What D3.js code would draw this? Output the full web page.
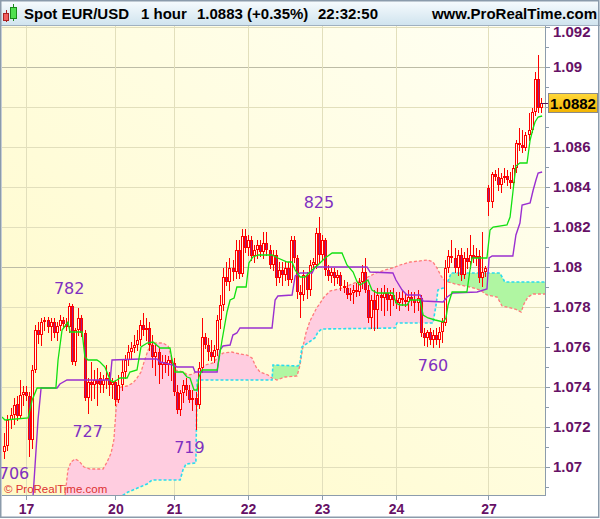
<!DOCTYPE html>
<html><head><meta charset="utf-8">
<script src="https://cdn.jsdelivr.net/npm/d3@7/dist/d3.min.js"></script>
<style>body{margin:0;background:#fff;}svg{display:block;}</style>
</head><body>
<svg id="c" width="600" height="519"></svg>
<script>
// ---------- DATA ----------
const opens=[1.07075,1.07105,1.07235,1.07260,1.07315,1.07255,1.07360,1.07375,1.07355,1.07135,
1.07485,1.07685,1.07660,1.07725,1.07735,1.07700,1.07725,1.07670,1.07705,1.07735,
1.07715,1.07700,1.07805,1.07525,1.07685,1.07745,1.07670,1.07345,1.07425,1.07410,
1.07435,1.07445,1.07410,1.07435,1.07445,1.07410,1.07425,1.07335,1.07410,1.07475,
1.07535,1.07575,1.07595,1.07610,1.07635,1.07710,1.07685,1.07695,1.07610,1.07550,
1.07575,1.07510,1.07525,1.07510,1.07535,1.07520,1.07375,1.07285,1.07370,1.07410,
1.07385,1.07335,1.07345,1.07310,1.07495,1.07650,1.07610,1.07575,1.07550,1.07585,
1.07735,1.07810,1.07950,1.07925,1.07995,1.07975,1.08085,1.07965,1.08155,1.08095,
1.08135,1.08055,1.08085,1.08110,1.08075,1.08120,1.08085,1.08010,1.08060,1.07945,
1.07985,1.07960,1.07995,1.07935,1.08135,1.08045,1.07875,1.07860,1.07960,1.07885,
1.08010,1.08010,1.08170,1.08060,1.08135,1.07985,1.07955,1.07975,1.07945,1.07960,
1.07905,1.07895,1.07860,1.07870,1.07885,1.07875,1.07925,1.07975,1.07885,1.07745,
1.07835,1.07785,1.07860,1.07845,1.07870,1.07835,1.07860,1.07835,1.07820,1.07845,
1.07835,1.07825,1.07850,1.07835,1.07820,1.07845,1.07670,1.07645,1.07675,1.07635,
1.07660,1.07635,1.07675,1.07720,1.07995,1.08055,1.08045,1.07995,1.08060,1.07960,
1.08045,1.08025,1.08060,1.08045,1.08055,1.07945,1.07975,1.08395,1.08325,1.08465,
1.08450,1.08410,1.08445,1.08455,1.08435,1.08420,1.08495,1.08620,1.08610,1.08595,
1.08660,1.08685,1.08775,1.08940,1.08795];
const highs=[1.07170,1.07260,1.07295,1.07345,1.07355,1.07435,1.07405,1.07405,1.07375,1.07510,
1.07710,1.07725,1.07745,1.07750,1.07750,1.07745,1.07745,1.07725,1.07760,1.07750,
1.07745,1.07820,1.07815,1.07695,1.07795,1.07760,1.07685,1.07445,1.07525,1.07485,
1.07495,1.07475,1.07460,1.07510,1.07475,1.07445,1.07435,1.07460,1.07535,1.07560,
1.07610,1.07625,1.07660,1.07685,1.07735,1.07770,1.07745,1.07725,1.07660,1.07610,
1.07595,1.07560,1.07560,1.07555,1.07560,1.07545,1.07410,1.07385,1.07435,1.07445,
1.07410,1.07385,1.07375,1.07525,1.07745,1.07670,1.07645,1.07635,1.07610,1.07760,
1.07860,1.07995,1.08025,1.08045,1.08035,1.08135,1.08135,1.08190,1.08190,1.08160,
1.08155,1.08110,1.08135,1.08135,1.08175,1.08175,1.08110,1.08085,1.08085,1.08025,
1.08025,1.08025,1.08025,1.08155,1.08155,1.08060,1.07910,1.07985,1.07975,1.08035,
1.08045,1.08195,1.08250,1.08160,1.08145,1.08010,1.07995,1.07995,1.07985,1.07975,
1.07935,1.07925,1.07895,1.07910,1.07920,1.07945,1.08010,1.08045,1.07910,1.07860,
1.07885,1.07895,1.07895,1.07910,1.07895,1.07885,1.07895,1.07875,1.07875,1.07885,
1.07870,1.07885,1.07875,1.07875,1.07885,1.07860,1.07695,1.07685,1.07695,1.07685,
1.07695,1.07700,1.07745,1.08035,1.08085,1.08135,1.08095,1.08085,1.08095,1.08075,
1.08095,1.08160,1.08110,1.08095,1.08085,1.08175,1.08005,1.08410,1.08475,1.08485,
1.08495,1.08470,1.08495,1.08485,1.08475,1.08510,1.08635,1.08695,1.08685,1.08675,
1.08770,1.08795,1.08975,1.09060,1.08845];
const lows=[1.07045,1.07085,1.07195,1.07215,1.07235,1.07245,1.07310,1.07335,1.07055,1.07095,
1.07475,1.07620,1.07610,1.07685,1.07675,1.07635,1.07650,1.07635,1.07685,1.07695,
1.07685,1.07675,1.07515,1.07510,1.07660,1.07655,1.07335,1.07270,1.07335,1.07345,
1.07310,1.07375,1.07375,1.07395,1.07360,1.07345,1.07310,1.07325,1.07385,1.07445,
1.07510,1.07545,1.07575,1.07585,1.07610,1.07660,1.07635,1.07585,1.07500,1.07460,
1.07420,1.07445,1.07475,1.07460,1.07435,1.07360,1.07270,1.07260,1.07325,1.07360,
1.07325,1.07285,1.07190,1.07295,1.07475,1.07595,1.07535,1.07535,1.07525,1.07560,
1.07695,1.07785,1.07910,1.07885,1.07935,1.07945,1.07945,1.07955,1.08075,1.08060,
1.08035,1.08025,1.08045,1.08055,1.08045,1.08060,1.07995,1.07985,1.07910,1.07925,
1.07910,1.07935,1.07910,1.07925,1.08025,1.07845,1.07750,1.07835,1.07845,1.07860,
1.07985,1.07995,1.08025,1.08035,1.07960,1.07935,1.07925,1.07910,1.07920,1.07885,
1.07875,1.07845,1.07835,1.07820,1.07855,1.07860,1.07895,1.07875,1.07725,1.07695,
1.07685,1.07695,1.07785,1.07760,1.07785,1.07760,1.07810,1.07795,1.07785,1.07810,
1.07805,1.07785,1.07810,1.07775,1.07785,1.07655,1.07610,1.07605,1.07615,1.07600,
1.07615,1.07600,1.07625,1.07710,1.07975,1.08025,1.07975,1.07960,1.07935,1.07945,
1.07995,1.07995,1.08025,1.08010,1.07925,1.07905,1.07955,1.08260,1.08300,1.08435,
1.08385,1.08375,1.08425,1.08410,1.08395,1.08405,1.08475,1.08585,1.08575,1.08585,
1.08635,1.08675,1.08760,1.08775,1.08775];
const closes=[1.07105,1.07235,1.07260,1.07310,1.07255,1.07360,1.07375,1.07355,1.07135,1.07485,
1.07685,1.07660,1.07725,1.07735,1.07700,1.07725,1.07670,1.07705,1.07735,1.07715,
1.07700,1.07805,1.07525,1.07685,1.07745,1.07670,1.07345,1.07425,1.07410,1.07435,
1.07415,1.07410,1.07435,1.07445,1.07410,1.07425,1.07335,1.07410,1.07475,1.07535,
1.07575,1.07595,1.07610,1.07635,1.07710,1.07685,1.07695,1.07610,1.07550,1.07575,
1.07510,1.07525,1.07510,1.07535,1.07520,1.07375,1.07285,1.07370,1.07410,1.07385,
1.07335,1.07345,1.07310,1.07495,1.07650,1.07610,1.07575,1.07550,1.07585,1.07735,
1.07810,1.07950,1.07925,1.07995,1.07975,1.08085,1.07965,1.08155,1.08095,1.08135,
1.08055,1.08085,1.08110,1.08075,1.08120,1.08085,1.08010,1.08060,1.07945,1.07985,
1.07960,1.07995,1.07935,1.08135,1.08045,1.07875,1.07860,1.07960,1.07885,1.08010,
1.08025,1.08170,1.08060,1.08135,1.07985,1.07955,1.07975,1.07945,1.07960,1.07905,
1.07895,1.07860,1.07870,1.07885,1.07875,1.07925,1.07975,1.07885,1.07745,1.07835,
1.07785,1.07860,1.07845,1.07870,1.07835,1.07860,1.07835,1.07820,1.07845,1.07835,
1.07825,1.07850,1.07835,1.07820,1.07845,1.07670,1.07645,1.07675,1.07635,1.07660,
1.07635,1.07675,1.07725,1.07995,1.08055,1.08045,1.07995,1.08060,1.07960,1.08045,
1.08025,1.08060,1.08045,1.08055,1.07945,1.07975,1.07995,1.08325,1.08465,1.08450,
1.08410,1.08445,1.08455,1.08435,1.08420,1.08495,1.08620,1.08610,1.08595,1.08660,
1.08685,1.08775,1.08940,1.08795,1.08820];

// Ichimoku lines as [bar index, price] vertices
const tenkan=[[-0.8,1.0725],[0.2,1.07235],[7.7,1.07245],[9.0,1.07335],[10.6,1.07395],[16.7,1.07395],[17.4,1.07535],[18.7,1.07685],[19.7,1.07705],[20.6,1.07725],[21.3,1.07675],[25.2,1.07675],[26.1,1.0755],[27.1,1.07535],[30.0,1.07535],[31.0,1.07525],[32.6,1.075],[34.3,1.07435],[35.2,1.07425],[36.5,1.07435],[37.5,1.07445],[39.8,1.07445],[40.7,1.07475],[43.0,1.07485],[44.3,1.076],[46.3,1.0762],[48.2,1.07625],[50.5,1.07595],[53.7,1.07595],[54.4,1.07535],[55.3,1.07475],[57.9,1.07475],[59.2,1.0745],[60.2,1.07445],[61.5,1.07385],[62.5,1.07385],[63.1,1.0745],[64.1,1.07485],[69.0,1.07485],[70.6,1.07635],[72.2,1.07775],[73.2,1.07835],[74.5,1.07845],[75.4,1.079],[78.4,1.079],[79.3,1.0802],[80.6,1.0805],[82.3,1.0806],[86.8,1.0806],[88.7,1.08045],[91.7,1.08025],[93.3,1.08025],[94.3,1.07985],[95.9,1.0795],[97.5,1.0795],[99.8,1.07985],[101.7,1.0801],[104.0,1.08045],[106.3,1.0807],[109.5,1.0807],[111.1,1.0801],[113.1,1.07975],[114.4,1.07925],[115.3,1.0791],[117.0,1.07925],[117.9,1.07935],[119.2,1.07885],[120.9,1.0787],[126.0,1.0787],[127.0,1.0782],[128.3,1.0781],[130.6,1.0781],[131.6,1.07835],[134.8,1.07835],[135.8,1.0776],[137.4,1.07745],[139.7,1.07735],[142.3,1.07725],[143.2,1.07745],[143.9,1.0781],[145.2,1.07875],[150.0,1.07875],[151.0,1.07985],[151.7,1.08045],[156.5,1.08045],[157.5,1.08185],[158.5,1.082],[163.0,1.0821],[164.0,1.0825],[165.0,1.08385],[165.9,1.08505],[167.2,1.0852],[169.5,1.0852],[170.5,1.08635],[171.5,1.08695],[172.1,1.08725],[173.1,1.0875],[174.4,1.08755]];
const kijun=[[9.0,1.06785],[10.9,1.07235],[11.9,1.07395],[17.1,1.07395],[18.0,1.07415],[20.3,1.07435],[34.3,1.07435],[34.9,1.07535],[44.0,1.0754],[49.5,1.0754],[50.5,1.07525],[54.7,1.0751],[56.0,1.075],[61.2,1.075],[61.8,1.07475],[69.0,1.07475],[69.9,1.07585],[70.9,1.07605],[73.2,1.0761],[74.1,1.0766],[75.4,1.0767],[76.4,1.07695],[86.8,1.07695],[87.8,1.07835],[88.7,1.07855],[93.3,1.0786],[94.3,1.07955],[95.9,1.0797],[99.8,1.0797],[100.7,1.08],[117.6,1.08],[118.6,1.07975],[126.0,1.0797],[127.0,1.07935],[129.0,1.07885],[130.6,1.0786],[134.8,1.0786],[135.8,1.0783],[142.3,1.07825],[143.6,1.0785],[145.5,1.0787],[153.3,1.07875],[156.5,1.0789],[157.2,1.08045],[158.2,1.08055],[164.9,1.08055],[165.9,1.0816],[167.2,1.0822],[167.9,1.0831],[170.5,1.0832],[171.5,1.08385],[172.4,1.08435],[173.1,1.0847],[174.4,1.08475]];
const senkouA=[[18.0,1.06685],[19.7,1.0686],[20.6,1.06985],[21.6,1.07025],[22.9,1.0704],[24.2,1.0703],[25.8,1.07],[27.8,1.0699],[32.0,1.0699],[33.3,1.07025],[34.6,1.0707],[35.5,1.07135],[36.2,1.07285],[36.8,1.07375],[37.8,1.074],[39.8,1.07405],[41.7,1.0742],[43.0,1.07445],[44.3,1.07475],[45.3,1.07525],[46.6,1.07585],[48.2,1.0762],[51.4,1.0762],[53.1,1.07605],[54.4,1.07535],[55.3,1.07485],[57.9,1.07475],[59.6,1.0746],[61.2,1.07465],[62.8,1.07485],[65.1,1.0751],[67.7,1.0752],[69.3,1.0755],[70.9,1.0757],[73.8,1.07575],[76.4,1.07565],[78.7,1.0756],[80.3,1.07545],[81.6,1.075],[82.9,1.07475],[85.5,1.0746],[86.8,1.07445],[88.4,1.07435],[91.0,1.0745],[94.9,1.07455],[95.9,1.0751],[96.8,1.076],[97.8,1.0767],[99.1,1.0773],[101.1,1.0779],[103.7,1.0785],[105.6,1.0788],[109.8,1.07895],[112.7,1.07915],[116.0,1.07935],[117.9,1.0795],[120.5,1.0797],[123.5,1.07985],[126.0,1.07995],[128.3,1.0801],[131.6,1.08025],[137.4,1.08035],[139.0,1.08025],[140.3,1.07995],[141.6,1.07955],[142.9,1.0793],[146.2,1.07915],[151.0,1.079],[154.3,1.07885],[156.5,1.0786],[159.8,1.0785],[161.4,1.07805],[165.6,1.0779],[167.6,1.07775],[168.5,1.07815],[169.8,1.0785],[171.5,1.07865],[175.7,1.07865]];
const senkouB=[[18.0,1.0654],[35.2,1.06785],[37.5,1.0685],[40.1,1.06875],[44.0,1.069],[46.3,1.06915],[47.9,1.06935],[57.0,1.06935],[57.9,1.06985],[58.9,1.07015],[62.1,1.0702],[62.5,1.07435],[86.8,1.07435],[87.1,1.0751],[95.2,1.07505],[95.9,1.07525],[96.5,1.076],[100.7,1.07645],[101.7,1.07675],[103.0,1.0769],[126.7,1.07695],[127.3,1.0772],[139.0,1.0772],[140.0,1.0781],[140.6,1.07885],[142.3,1.07895],[143.6,1.0792],[144.9,1.0797],[160.7,1.0797],[162.3,1.07925],[175.7,1.07925]];

// High / low annotations
const markIdx=[21,102,0,27,60,139];
const markPrice=[1.0782,1.0825,1.0706,1.0727,1.0719,1.0760];
const markText=["782","825","706","727","719","760"];
const markSide=["high","high","low","low","low","low"];

// Axes
const yTicks=[1.070,1.072,1.074,1.076,1.078,1.080,1.082,1.084,1.086,1.088,1.090,1.092];
const yMinor=[1.069,1.071,1.073,1.075,1.077,1.079,1.081,1.083,1.085,1.087,1.089,1.091];
const dayIdx=[7,36,55,79,103,127,157];
const dayLabels=["17","20","21","22","23","24","27"];
const lastPrice=1.0882;
const titleParts=["Spot EUR/USD","1 hour","1.0883 (+0.35%)","22:32:50"];

// ---------- DRAW ----------
const svg=d3.select("#c");
const P={l:2,r:545,t:26,b:495};
const x=d3.scaleLinear().domain([0,174]).range([4.4,540.9]);
const y=d3.scaleLinear().domain([1.07,1.092]).range([467,27]);
const defs=svg.append("defs");

const bgG=defs.append("linearGradient").attr("id","bgG").attr("x1",1).attr("y1",0).attr("x2",0).attr("y2",1);
bgG.append("stop").attr("offset",0).attr("stop-color","#fffff4");
bgG.append("stop").attr("offset",1).attr("stop-color","#fffac6");
const hdG=defs.append("linearGradient").attr("id","hdG").attr("x1",0).attr("y1",0).attr("x2",0).attr("y2",1);
hdG.append("stop").attr("offset",0).attr("stop-color","#f8fcfe");
hdG.append("stop").attr("offset",1).attr("stop-color","#cfe3ee");
const pbG=defs.append("linearGradient").attr("id","pbG").attr("x1",0).attr("y1",0).attr("x2",0).attr("y2",1);
pbG.append("stop").attr("offset",0).attr("stop-color","#ffd83a");
pbG.append("stop").attr("offset",1).attr("stop-color","#f2b400");

defs.append("clipPath").attr("id","plotClip").append("rect")
  .attr("x",P.l).attr("y",P.t).attr("width",P.r-P.l).attr("height",P.b-P.t);

const aboveArea=d3.area().x(d=>x(d[0])).y0(-200).y1(d=>y(d[1]));
const belowArea=d3.area().x(d=>x(d[0])).y0(800).y1(d=>y(d[1]));
defs.append("clipPath").attr("id","aboveB").append("path").attr("d",aboveArea(senkouB));
defs.append("clipPath").attr("id","aboveA").append("path").attr("d",aboveArea(senkouA));

svg.append("rect").attr("width",600).attr("height",519).attr("fill","#fff");
svg.append("rect").attr("x",P.l).attr("y",P.t).attr("width",P.r-P.l).attr("height",P.b-P.t).attr("fill","url(#bgG)");

// grid
const grid=svg.append("g").attr("shape-rendering","crispEdges");
grid.selectAll(".hg").data(yTicks).join("line")
  .attr("x1",P.l).attr("x2",P.r).attr("y1",d=>Math.round(y(d))+0.5).attr("y2",d=>Math.round(y(d))+0.5)
  .attr("stroke",d=>(Math.abs(d-1.08)<1e-6||Math.abs(d-1.09)<1e-6)?"#bdbca6":"#e2dfbc");
grid.selectAll(".vg").data(dayIdx).join("line")
  .attr("x1",d=>Math.round(x(d))+0.5).attr("x2",d=>Math.round(x(d))+0.5).attr("y1",P.t).attr("y2",P.b)
  .attr("stroke","#e2dfbc");

const plotG=svg.append("g").attr("clip-path","url(#plotClip)");
// cloud
plotG.append("g").attr("clip-path","url(#aboveB)").append("path").attr("d",belowArea(senkouA)).attr("fill","#ffcde0");
plotG.append("g").attr("clip-path","url(#aboveA)").append("path").attr("d",belowArea(senkouB)).attr("fill","#b0f6a2");
const lineGen=d3.line().x(d=>x(d[0])).y(d=>y(d[1]));
plotG.append("path").attr("d",lineGen(senkouA)).attr("fill","none").attr("stroke","#ff7a7a").attr("stroke-width",1.3).attr("stroke-dasharray","3,2");
plotG.append("path").attr("d",lineGen(senkouB)).attr("fill","none").attr("stroke","#2adcee").attr("stroke-width",1.6).attr("stroke-dasharray","3,2");

// candles
const cg=plotG.append("g").attr("shape-rendering","crispEdges");
opens.forEach((o,i)=>{
  const c=closes[i],h=highs[i],l=lows[i];
  const X=Math.round(x(i))-1;
  const top=Math.round(y(Math.max(o,c))), bot=Math.max(top+1,Math.round(y(Math.min(o,c))));
  const up=c>=o;
  cg.append("line").attr("x1",X+1.5).attr("x2",X+1.5).attr("y1",Math.round(y(h))).attr("y2",top).attr("stroke","#ff0000");
  cg.append("line").attr("x1",X+1.5).attr("x2",X+1.5).attr("y1",bot).attr("y2",Math.round(y(l))+1).attr("stroke","#ff0000");
  cg.append("rect").attr("x",X+0.5).attr("y",top+0.5).attr("width",2).attr("height",Math.max(1,bot-top-1))
    .attr("fill",up?"#fffff0":"#a01c80").attr("stroke","#ff0000").attr("stroke-width",1);
});

plotG.append("path").attr("d",lineGen(kijun)).attr("fill","none").attr("stroke","#9a2fd0").attr("stroke-width",1.4);
plotG.append("path").attr("d",lineGen(tenkan)).attr("fill","none").attr("stroke","#11e011").attr("stroke-width",1.3);

// annotations
markIdx.forEach((m,k)=>{
  const cx=Math.max(14,x(m));
  const by=markSide[k]==="high"?y(markPrice[k])-9:y(markPrice[k])+24;
  svg.append("text").attr("x",cx).attr("y",by).attr("text-anchor","middle")
    .attr("font-family","DejaVu Sans, Verdana, sans-serif").attr("font-size",16).attr("fill","#8030c0").text(markText[k]);
});

svg.append("text").attr("x",4).attr("y",493).attr("font-family","Liberation Sans, Arial, sans-serif")
  .attr("font-size",11.5).attr("fill","#dd3030").text("© ProRealTime.com");

// axes
const axCol="#8c9cac", lblCol="#661166";
const fmt=d3.format(".3~f");
const yAx=svg.append("g").attr("transform",`translate(${P.r},0)`)
  .call(d3.axisRight(y).tickValues(yTicks).tickFormat(d=>Math.abs(d-lastPrice)<0.0008?"":fmt(d)).tickSize(5).tickPadding(3));
const yMin=svg.append("g").attr("transform",`translate(${P.r},0)`)
  .call(d3.axisRight(y).tickValues(yMinor).tickFormat("").tickSize(4));
const xAx=svg.append("g").attr("transform",`translate(0,${P.b})`)
  .call(d3.axisBottom(x).tickValues(dayIdx).tickFormat((d,i)=>dayLabels[i]).tickSize(5).tickPadding(4));
[yAx,yMin,xAx].forEach(a=>{
  a.select(".domain").remove();
  a.selectAll("line").attr("stroke",axCol).attr("shape-rendering","crispEdges");
  a.selectAll("text").attr("fill",lblCol).attr("font-family","Liberation Sans, Arial, sans-serif").attr("font-weight","bold");
});
yAx.selectAll("text").attr("font-size",15);
// keep the top label inside the plot, below the header
yAx.selectAll(".tick text").attr("y",d=>Math.max(0,32-y(d)));
xAx.selectAll("text").attr("font-size",14);
svg.append("line").attr("x1",P.r+0.5).attr("x2",P.r+0.5).attr("y1",P.t).attr("y2",P.b+1).attr("stroke",axCol).attr("shape-rendering","crispEdges");
svg.append("line").attr("x1",P.l).attr("x2",P.r+1).attr("y1",P.b+0.5).attr("y2",P.b+0.5).attr("stroke",axCol).attr("shape-rendering","crispEdges");

// last price marker
const ly=y(lastPrice);
svg.append("line").attr("x1",P.r-4).attr("x2",P.r+3).attr("y1",Math.round(ly)+0.5).attr("y2",Math.round(ly)+0.5).attr("stroke","#551155");
svg.append("rect").attr("x",548.5).attr("y",Math.round(ly)-9.5).attr("width",49).attr("height",19)
  .attr("fill","url(#pbG)").attr("stroke","#8a8a8a");
svg.append("text").attr("x",573).attr("y",ly+5.5).attr("text-anchor","middle")
  .attr("font-family","Liberation Sans, Arial, sans-serif").attr("font-weight","bold").attr("font-size",15)
  .attr("fill","#000").text(d3.format(".4f")(lastPrice));

// header
svg.append("rect").attr("x",0).attr("y",0).attr("width",600).attr("height",26).attr("fill","url(#hdG)");
svg.append("line").attr("x1",0).attr("x2",600).attr("y1",25.5).attr("y2",25.5).attr("stroke","#9fb0c0");
const hx=[24,141,197,318];
titleParts.forEach((t,k)=>svg.append("text").attr("x",hx[k]).attr("y",19)
  .attr("font-family","Liberation Sans, Arial, sans-serif").attr("font-weight","bold").attr("font-size",15).attr("fill","#000").text(t));
svg.append("text").attr("x",597).attr("y",19).attr("text-anchor","end")
  .attr("font-family","Liberation Sans, Arial, sans-serif").attr("font-weight","bold").attr("font-size",15).attr("fill","#000").text("www.ProRealTime.com");
// icon
const ic=svg.append("g").attr("shape-rendering","crispEdges");
ic.append("line").attr("x1",6.5).attr("x2",6.5).attr("y1",10).attr("y2",22).attr("stroke","#aa2222");
ic.append("rect").attr("x",3.5).attr("y",13.5).attr("width",5).attr("height",7).attr("fill","#f06060").attr("stroke","#aa2222");
ic.append("line").attr("x1",13.5).attr("x2",13.5).attr("y1",4).attr("y2",21).attr("stroke","#1a8a1a");
ic.append("rect").attr("x",10.5).attr("y",7.5).attr("width",6).attr("height",11).attr("fill","#50e050").attr("stroke","#1a8a1a");

// frame
svg.append("rect").attr("x",0.75).attr("y",0.75).attr("width",598).attr("height",516.5)
  .attr("fill","none").attr("stroke","#8b9bab").attr("stroke-width",1.5);
</script>
</body></html>
